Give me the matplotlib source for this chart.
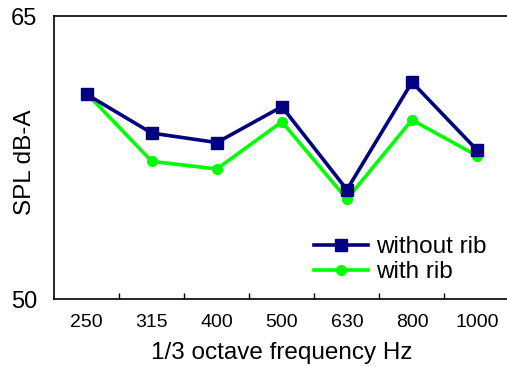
import matplotlib.pyplot as plt
from matplotlib.ticker import FixedLocator, NullLocator

plt.rcParams['font.family'] = ['Liberation Sans', 'DejaVu Sans']

# 1/3 octave band centre frequencies
freqs = ["250", "315", "400", "500", "630", "800", "1000"]
without_rib = [60.85, 58.8, 58.3, 60.2, 55.8, 61.5, 57.9]
with_rib = [60.9, 57.3, 56.9, 59.4, 55.3, 59.5, 57.6]

fig = plt.figure(figsize=(5.07, 3.67), dpi=100)
ax = fig.add_axes([0.107, 0.185, 0.898, 0.771])

x = list(range(len(freqs)))

# green first so the navy squares sit on top
l2, = ax.plot(x, with_rib, color="#00ff00", lw=2.6, marker="o", ms=7,
              label="with rib", zorder=2)
l1, = ax.plot(x, without_rib, color="#000080", lw=2.6, marker="s", ms=8,
              label="without rib", zorder=3)

ax.set_xlim(-0.5, len(freqs) - 0.5)
ax.set_ylim(50, 65)

ax.set_xticks(x)
ax.set_xticklabels(freqs, fontsize=14)
ax.xaxis.set_minor_locator(FixedLocator([i + 0.5 for i in x[:-1]]))
ax.tick_params(axis="x", which="major", length=0, pad=11)
ax.tick_params(axis="x", which="minor", direction="in", length=4, width=1)

ax.set_yticks([50, 65])
ax.set_yticklabels(["50", "65"], fontsize=17)
ax.yaxis.set_minor_locator(NullLocator())
ax.tick_params(axis="y", length=0, pad=12)

for s in ax.spines.values():
    s.set_linewidth(1.2)
ax.spines["right"].set_visible(False)

ax.set_xlabel("1/3 octave frequency Hz", fontsize=17.5, labelpad=8)
ax.set_ylabel("SPL dB-A", fontsize=17.5)
ax.yaxis.label.set_va("center")
ax.yaxis.set_label_coords(-0.064, 0.485)

ax.legend(handles=[l1, l2], loc="lower right", bbox_to_anchor=(0.982, 0.005),
          frameon=False, fontsize=17.5, handlelength=2.2, handletextpad=0.35,
          labelspacing=0.12, borderaxespad=0.2)

fig.savefig("out.png", dpi=100)
